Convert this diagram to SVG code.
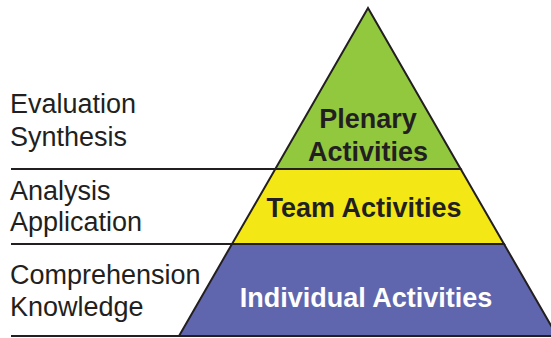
<svg xmlns="http://www.w3.org/2000/svg" width="551" height="338" viewBox="0 0 551 338">
<style>
.lbl{font-family:"Liberation Sans",Arial,sans-serif;font-size:27px;fill:#231f20}
.in{font-family:"Liberation Sans",Arial,sans-serif;font-size:27px;font-weight:bold;text-anchor:middle}
.edge{stroke:#231f20;stroke-width:2;fill:none}
.band{stroke:#231f20;stroke-width:2;stroke-linejoin:miter}
</style>
<rect width="551" height="338" fill="#ffffff"/>
<g id="plenary">
<polygon class="band" points="368,8 460.7,169 275.3,169" fill="#92c83e"/>
<text class="in" x="368" y="128" fill="#231f20">Plenary</text>
<text class="in" x="368" y="161" fill="#231f20">Activities</text>
</g>
<g id="team">
<polygon class="band" points="275.3,169 460.7,169 504,244 232,244" fill="#f3e816"/>
<text class="in" x="364" y="217" fill="#231f20">Team Activities</text>
</g>
<g id="individual">
<polygon class="band" points="232,244 504,244 557,336 179,336" fill="#6066ae"/>
<text class="in" x="366" y="307" fill="#ffffff">Individual Activities</text>
</g>
<g id="levels">
<text class="lbl" x="10" y="113">Evaluation</text>
<text class="lbl" x="10" y="146">Synthesis</text>
<text class="lbl" x="10" y="200">Analysis</text>
<text class="lbl" x="10" y="231">Application</text>
<text class="lbl" x="10" y="284">Comprehension</text>
<text class="lbl" x="10" y="316">Knowledge</text>
</g>
<g id="connectors">
<line class="edge" x1="11" y1="169" x2="276" y2="169"/>
<line class="edge" x1="11" y1="244" x2="232" y2="244"/>
<line class="edge" x1="11" y1="336" x2="551" y2="336"/>
</g>
</svg>
